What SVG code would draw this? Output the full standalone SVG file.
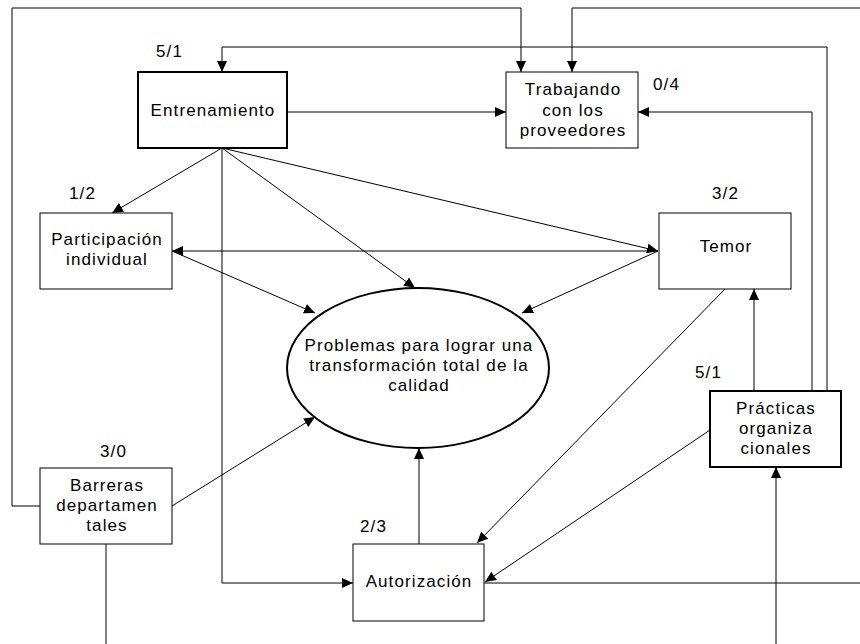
<svg xmlns="http://www.w3.org/2000/svg" width="860" height="644" viewBox="0 0 860 644">
  <style>
    text { font-family: "Liberation Sans", Arial, sans-serif; font-size: 17px; letter-spacing: 1.1px; fill: #000; }
    .c { text-anchor: middle; }
    .box { fill: #fff; stroke: #000; stroke-width: 1; }
    .bold { stroke-width: 2; }
    .edge { fill: none; stroke: #000; stroke-width: 1; }
    .arr { marker-end: url(#ah); }
  </style>
  <defs>
    <marker id="ah" markerUnits="userSpaceOnUse" markerWidth="12" markerHeight="11" refX="11" refY="5" orient="auto">
      <path d="M0,0 L11,5 L0,10 z" fill="#000"/>
    </marker>
  </defs>
  <rect width="860" height="644" fill="#fff"/>

  <g id="connectors">
    <!-- Barreras to Trabajando, around the top-left -->
    <polyline class="edge arr" points="40,506 12,506 12,8 521,8 521,72"/>
    <!-- incoming from the right into Trabajando -->
    <polyline class="edge arr" points="860,8 572,8 572,72"/>
    <!-- Prácticas to Entrenamiento -->
    <polyline class="edge arr" points="827,391 827,47 222,47 222,72"/>
    <!-- Prácticas to Trabajando -->
    <polyline class="edge arr" points="812,391 812,112 638,112"/>
    <!-- Entrenamiento to Trabajando -->
    <line class="edge arr" x1="287" y1="112" x2="506" y2="112"/>
    <!-- fan from Entrenamiento -->
    <line class="edge arr" x1="222" y1="148" x2="112" y2="213"/>
    <line class="edge arr" x1="222" y1="148" x2="415" y2="288"/>
    <line class="edge arr" x1="222" y1="148" x2="658" y2="251"/>
    <polyline class="edge arr" points="222,148 222,583 353,583"/>
    <!-- Temor to Participación -->
    <line class="edge arr" x1="658" y1="251" x2="172" y2="251"/>
    <!-- into the central ellipse -->
    <line class="edge arr" x1="172" y1="251" x2="315" y2="313"/>
    <line class="edge arr" x1="658" y1="251" x2="522" y2="313"/>
    <line class="edge arr" x1="172" y1="506" x2="315" y2="417"/>
    <line class="edge arr" x1="419" y1="544" x2="419" y2="448"/>
    <!-- into Autorización -->
    <line class="edge arr" x1="725" y1="289" x2="477" y2="543"/>
    <line class="edge arr" x1="710" y1="430" x2="485" y2="582"/>
    <!-- Prácticas to Temor -->
    <line class="edge arr" x1="754" y1="391" x2="754" y2="289"/>
    <!-- links leaving / entering the page -->
    <line class="edge arr" x1="776" y1="644" x2="776" y2="467"/>
    <line class="edge" x1="484" y1="583" x2="860" y2="583"/>
    <line class="edge" x1="106" y1="544" x2="106" y2="644"/>
  </g>

  <g id="entrenamiento">
    <rect class="box bold" x="138" y="72" width="149" height="76"/>
    <text class="c" x="213" y="116">Entrenamiento</text>
    <text x="156" y="57">5/1</text>
  </g>

  <g id="trabajando">
    <rect class="box" x="506" y="72" width="132" height="76"/>
    <text class="c" x="573" y="95">Trabajando</text>
    <text class="c" x="573" y="116">con los</text>
    <text class="c" x="573" y="136">proveedores</text>
    <text x="653" y="90">0/4</text>
  </g>

  <g id="participacion">
    <rect class="box" x="40" y="213" width="132" height="76"/>
    <text class="c" x="107" y="245">Participación</text>
    <text class="c" x="107" y="265">individual</text>
    <text x="69" y="199">1/2</text>
  </g>

  <g id="temor">
    <rect class="box" x="659" y="213" width="132" height="76"/>
    <text class="c" x="726" y="252">Temor</text>
    <text x="712" y="199">3/2</text>
  </g>

  <g id="problemas">
    <ellipse cx="418" cy="368" rx="131" ry="80" fill="#fff" stroke="#000" stroke-width="2"/>
    <text class="c" x="419" y="351">Problemas para lograr una</text>
    <text class="c" x="419" y="371">transformación total de la</text>
    <text class="c" x="419" y="391">calidad</text>
  </g>

  <g id="practicas">
    <rect class="box bold" x="710" y="391" width="131" height="76"/>
    <text class="c" x="776" y="414">Prácticas</text>
    <text class="c" x="776" y="434">organiza</text>
    <text class="c" x="776" y="454">cionales</text>
    <text x="695" y="378">5/1</text>
  </g>

  <g id="barreras">
    <rect class="box" x="40" y="468" width="132" height="76"/>
    <text class="c" x="107" y="491">Barreras</text>
    <text class="c" x="107" y="511">departamen</text>
    <text class="c" x="107" y="531">tales</text>
    <text x="100" y="457">3/0</text>
  </g>

  <g id="autorizacion">
    <rect class="box" x="353" y="544" width="131" height="77"/>
    <text class="c" x="419" y="587">Autorización</text>
    <text x="360" y="532">2/3</text>
  </g>
</svg>
